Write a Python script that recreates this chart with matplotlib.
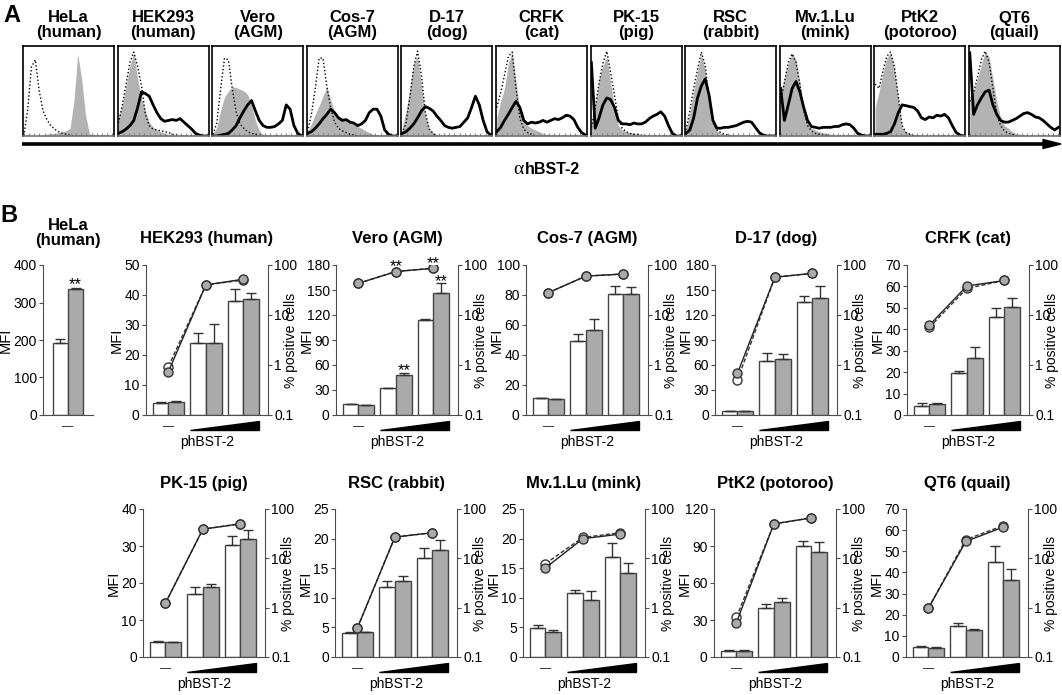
import matplotlib.pyplot as plt
import matplotlib.transforms as mtransforms
from matplotlib.patches import Polygon
from matplotlib.ticker import NullLocator
import numpy as np

plt.rcParams['font.family'] = ['Liberation Sans', 'DejaVu Sans']

# ---------------- panel A: flow histograms (24 channels, % of peak) ----------------
a_cells = ['HeLa', 'HEK293', 'Vero', 'Cos-7', 'D-17', 'CRFK', 'PK-15', 'RSC', 'Mv.1.Lu', 'PtK2', 'QT6']
a_species = ['(human)', '(human)', '(AGM)', '(AGM)', '(dog)', '(cat)', '(pig)', '(rabbit)',
             '(mink)', '(potoroo)', '(quail)']

dotted_hist = [
    [0, 30, 80, 88, 52, 29, 19, 12, 8, 5, 3, 2, 1, 0, 0, 0, 0, 0, 0, 0, 0, 0, 0, 0],
    [15, 35, 60, 85, 97, 80, 58, 25, 12, 8, 7, 6, 5, 4, 2, 1, 0, 0, 0, 0, 0, 0, 0, 0],
    [2, 15, 55, 90, 88, 55, 28, 14, 9, 5, 3, 2, 1, 0, 0, 0, 0, 0, 0, 0, 0, 0, 0, 0],
    [5, 25, 55, 90, 90, 57, 32, 16, 9, 6, 4, 2, 1, 0, 0, 0, 0, 0, 0, 0, 0, 0, 0, 0],
    [3, 15, 45, 80, 98, 70, 28, 8, 3, 0, 0, 0, 0, 0, 0, 0, 0, 0, 0, 0, 0, 0, 0, 0],
    [33, 50, 70, 92, 97, 55, 20, 8, 4, 2, 0, 0, 0, 0, 0, 0, 0, 0, 0, 0, 0, 0, 0, 0],
    [10, 33, 62, 84, 98, 73, 47, 20, 9, 5, 3, 2, 2, 1, 0, 0, 0, 0, 0, 0, 0, 0, 0, 0],
    [7, 29, 55, 77, 97, 81, 44, 16, 7, 4, 2, 1, 0, 0, 0, 0, 0, 0, 0, 0, 0, 0, 0, 0],
    [40, 62, 85, 95, 85, 60, 30, 12, 6, 3, 2, 1, 1, 0, 0, 0, 0, 0, 0, 0, 0, 0, 0, 0],
    [60, 55, 75, 92, 97, 80, 45, 12, 4, 2, 0, 0, 0, 0, 0, 0, 0, 0, 0, 0, 0, 0, 0, 0],
    [40, 50, 68, 88, 98, 85, 55, 25, 12, 6, 3, 2, 0, 0, 0, 0, 0, 0, 0, 0, 0, 0, 0, 0],
]
gray_hist = [
    [0, 0, 0, 0, 0, 1, 2, 3, 3, 4, 5, 6, 9, 40, 95, 66, 25, 3, 0, 0, 0, 0, 0, 0],
    [21, 36, 58, 81, 96, 66, 44, 29, 16, 10, 7, 5, 3, 2, 1, 0, 0, 0, 0, 0, 0, 0, 0, 0],
    [3, 10, 30, 45, 52, 57, 56, 54, 52, 48, 35, 18, 6, 2, 0, 0, 0, 0, 0, 0, 0, 0, 0, 0],
    [5, 14, 25, 35, 46, 57, 42, 27, 23, 21, 18, 16, 14, 11, 9, 6, 4, 2, 1, 0, 0, 0, 0, 0],
    [10, 29, 55, 84, 92, 58, 25, 9, 4, 2, 0, 0, 0, 0, 0, 0, 0, 0, 0, 0, 0, 0, 0, 0],
    [21, 40, 55, 84, 97, 62, 29, 18, 12, 9, 7, 5, 3, 2, 1, 0, 0, 0, 0, 0, 0, 0, 0, 0],
    [15, 36, 66, 81, 92, 62, 33, 12, 7, 5, 4, 3, 2, 1, 0, 0, 0, 0, 0, 0, 0, 0, 0, 0],
    [8, 27, 52, 75, 95, 75, 40, 15, 6, 3, 2, 1, 0, 0, 0, 0, 0, 0, 0, 0, 0, 0, 0, 0],
    [51, 66, 84, 96, 88, 62, 33, 14, 9, 7, 5, 4, 3, 2, 1, 0, 0, 0, 0, 0, 0, 0, 0, 0],
    [33, 51, 73, 90, 96, 77, 44, 10, 5, 3, 2, 1, 0, 0, 0, 0, 0, 0, 0, 0, 0, 0, 0, 0],
    [44, 51, 66, 83, 97, 92, 66, 40, 21, 12, 9, 5, 3, 2, 1, 0, 0, 0, 0, 0, 0, 0, 0, 0],
]
black_hist = [
    None,
    [3, 5, 8, 12, 18, 33, 51, 49, 46, 36, 27, 20, 17, 18, 19, 18, 20, 16, 12, 8, 3, 1, 0, 0],
    [0, 0, 1, 2, 3, 7, 12, 21, 29, 36, 41, 29, 18, 12, 10, 10, 11, 14, 18, 36, 31, 12, 3, 0],
    [3, 5, 9, 14, 20, 25, 31, 27, 21, 18, 19, 16, 15, 12, 14, 18, 27, 31, 31, 23, 7, 2, 0, 0],
    [3, 5, 9, 14, 21, 29, 34, 32, 29, 23, 18, 12, 10, 9, 10, 11, 16, 21, 33, 46, 36, 18, 5, 1],
    [5, 10, 18, 25, 33, 40, 33, 18, 14, 16, 15, 16, 18, 16, 18, 20, 19, 21, 24, 23, 19, 10, 4, 1],
    [85, 9, 21, 36, 44, 42, 33, 18, 14, 14, 13, 15, 14, 14, 16, 20, 23, 25, 28, 23, 12, 3, 0, 0],
    [3, 7, 21, 44, 58, 66, 47, 18, 9, 9, 10, 10, 11, 12, 14, 16, 17, 16, 10, 4, 1, 0, 0, 0],
    [55, 18, 36, 55, 63, 51, 33, 18, 11, 10, 9, 10, 10, 10, 11, 11, 13, 14, 13, 9, 3, 1, 0, 0],
    [2, 2, 2, 3, 5, 14, 27, 36, 35, 34, 33, 29, 21, 19, 22, 21, 24, 23, 25, 21, 12, 4, 1, 0],
    [96, 25, 36, 44, 51, 53, 36, 25, 18, 16, 16, 18, 20, 23, 26, 27, 25, 22, 21, 18, 14, 10, 7, 10],
]

# ---------------- panel B: MFI bars and % positive cells ----------------
b_titles = ['HEK293 (human)', 'Vero (AGM)', 'Cos-7 (AGM)', 'D-17 (dog)', 'CRFK (cat)',
            'PK-15 (pig)', 'RSC (rabbit)', 'Mv.1.Lu (mink)', 'PtK2 (potoroo)', 'QT6 (quail)']
b_ymax = [50, 180, 100, 180, 70, 40, 25, 25, 120, 70]
b_ystep = [10, 30, 20, 30, 10, 10, 5, 5, 30, 10]

white_mfi = [[4.1, 23.9, 38.0], [13.2, 32.0, 114], [11.1, 49.6, 80.5], [4.8, 64.8, 136],
             [4.4, 19.4, 45.9], [4.0, 17.0, 30.2], [4.0, 11.9, 16.7], [4.9, 10.8, 16.9],
             [4.6, 39.7, 90.3], [4.7, 14.5, 44.8]]
white_sd = [[0.2, 3.3, 3.9], [0.3, 0.3, 1.0], [0.3, 4.4, 5.6], [0.5, 9.2, 6.8],
            [1.0, 1.3, 3.9], [0.2, 1.9, 2.4], [0.3, 0.9, 1.7], [0.5, 0.6, 2.4],
            [0.8, 3.3, 3.5], [0.3, 1.6, 7.9]]
gray_mfi = [[4.4, 24.1, 38.6], [12.0, 48.0, 147], [10.4, 57.0, 80.5], [4.8, 66.8, 140],
            [5.1, 26.7, 50.2], [4.0, 18.9, 31.9], [4.2, 12.8, 18.0], [4.3, 9.6, 14.2],
            [4.6, 44.6, 84.9], [4.3, 12.6, 36.3]]
gray_sd = [[0.1, 6.2, 2.2], [0.3, 2.8, 11], [0.3, 6.8, 5.0], [0.5, 6.0, 15],
           [0.7, 4.9, 4.5], [0.1, 0.8, 2.3], [0.1, 0.9, 1.7], [0.2, 1.5, 1.7],
           [0.8, 3.2, 8.1], [0.3, 0.8, 5.3]]

open_pct = [[0.93, 40, 50], [43, 74, 86], [28, 60, 66], [0.50, 57, 68], [5.7, 34, 49],
            [1.24, 39, 50], [0.39, 27, 33], [7.8, 26.5, 33], [0.64, 50, 66], [0.98, 24, 46]]
gray_pct = [[0.74, 40, 52], [43, 74, 86], [28, 60, 66], [0.68, 57, 68], [6.3, 38, 49],
            [1.24, 39, 50], [0.39, 27, 33], [6.4, 25, 31], [0.50, 50, 66], [0.98, 22, 43]]

sig_bar_groups = {1: [1, 2]}   # Vero: gray bars of doses 2 and 3
sig_pct_groups = {1: [1, 2]}   # Vero: % positive at doses 2 and 3

hela_white, hela_white_sd = 192, 11
hela_gray, hela_gray_sd = 336, 3

# ---------------- figure ----------------
W, H = 1062, 695
fig = plt.figure(figsize=(W / 100, H / 100), dpi=100)


def px_axes(x0, y0, x1, y1):
    return fig.add_axes([x0 / W, 1 - y1 / H, (x1 - x0) / W, (y1 - y0) / H])


over = px_axes(0, 0, W, H)
over.set_xlim(0, W)
over.set_ylim(H, 0)
over.axis('off')

over.text(3, 15, 'A', fontsize=17, weight='bold', ha='left', va='center')
over.text(0, 215, 'B', fontsize=17, weight='bold', ha='left', va='center')

chan = np.arange(24)
for i, cell in enumerate(a_cells):
    x0 = 23 + 94.6 * i
    ax = px_axes(x0, 46, x0 + 91, 136)
    ax.fill_between(chan, gray_hist[i], color='#b3b3b3', lw=0)
    ax.plot(chan, dotted_hist[i], color='black', ls=(0, (1, 1.6)), lw=1)
    if black_hist[i] is not None:
        ax.plot(chan, black_hist[i], color='black', lw=2)
    ax.set_xlim(-0.2, 23.4)
    ax.set_ylim(0, 104)
    ax.set_xticks(np.linspace(0, 23, 18))
    ax.set_yticks([])
    ax.tick_params(axis='x', direction='in', length=2, color='#888888', labelbottom=False)
    for s in ax.spines.values():
        s.set_linewidth(1.2)
    ax.spines['bottom'].set_color('#777777')
    over.text(x0 + 45.5, 18, cell, fontsize=12, weight='bold', ha='center', va='center')
    over.text(x0 + 45.5, 33, a_species[i], fontsize=12, weight='bold', ha='center', va='center')

over.plot([22, 1045], [144, 144], color='black', lw=2.6, solid_capstyle='butt')
over.add_patch(Polygon([[1043, 139.5], [1061, 144], [1043, 148.5]], closed=True, color='black'))
over.text(524, 169, 'α', family='Liberation Serif', fontsize=14, ha='right', va='center')
over.text(525, 169, 'hBST-2', fontsize=11.5, weight='bold', ha='left', va='center')

spine_c = '#4d4d4d'
bar_kw = dict(edgecolor='#444444', linewidth=1)
err_kw = dict(ecolor='#333333', elinewidth=1, capthick=1)


def style_left(ax, ymax, ystep, w, h, mfi_x):
    ax.set_ylim(0, ymax)
    ax.set_yticks(np.arange(0, ymax + 0.1, ystep))
    ax.set_xticks([])
    ax.spines['top'].set_visible(False)
    ax.spines['right'].set_visible(False)
    for s in ('left', 'bottom'):
        ax.spines[s].set_color(spine_c)
    ax.tick_params(axis='y', direction='out', length=3, width=0.8, pad=1.5,
                   labelsize=10, color=spine_c)
    ax.set_ylabel('MFI', fontsize=10.5)
    ax.yaxis.set_label_coords(mfi_x / w, 0.5)


# HeLa panel
ax = px_axes(43, 265, 93, 415)
ax.bar([-0.21], [hela_white], 0.42, color='white', yerr=[[0], [hela_white_sd]],
       capsize=3.5, error_kw=err_kw, **bar_kw)
ax.bar([0.21], [hela_gray], 0.42, color='#aaaaaa', yerr=[[0], [hela_gray_sd]],
       capsize=3.5, error_kw=err_kw, **bar_kw)
ax.set_xlim(-0.68, 0.68)
style_left(ax, 400, 100, 50, 150, -30)
ax.annotate('**', (0.21, hela_gray + hela_gray_sd), xytext=(0, -1), textcoords='offset points',
            ha='center', va='baseline', fontsize=12)
trans = mtransforms.blended_transform_factory(ax.transData, ax.transAxes)
ax.text(0, -0.075, '—', transform=trans, ha='center', va='center', fontsize=8)
ax.text(0.5, 1 + 40 / 150, 'HeLa', transform=ax.transAxes, ha='center', va='center',
        fontsize=12, weight='bold')
ax.text(0.5, 1 + 24 / 150, '(human)', transform=ax.transAxes, ha='center', va='center',
        fontsize=12, weight='bold')

b_lefts = [[146, 336, 526, 715, 907], [143, 335, 523, 714, 906]]
b_rows = [(265, 415), (509, 657)]
groups = np.arange(3)

for k, title in enumerate(b_titles):
    row, col = divmod(k, 5)
    left = b_lefts[row][col]
    top, bottom = b_rows[row]
    w, h = 122, bottom - top
    ax = px_axes(left, top, left + w, bottom)
    ax.bar(groups - 0.21, white_mfi[k], 0.42, color='white',
           yerr=[np.zeros(3), white_sd[k]], capsize=3.5, error_kw=err_kw, **bar_kw)
    ax.bar(groups + 0.21, gray_mfi[k], 0.42, color='#aaaaaa',
           yerr=[np.zeros(3), gray_sd[k]], capsize=3.5, error_kw=err_kw, **bar_kw)
    ax.set_xlim(-0.6, 2.66)
    style_left(ax, b_ymax[k], b_ystep[k], w, h, -22)
    for g in sig_bar_groups.get(k, []):
        ax.annotate('**', (g + 0.21, gray_mfi[k][g] + gray_sd[k][g]), xytext=(0, -2),
                    textcoords='offset points', ha='center', va='baseline', fontsize=12)

    trans = mtransforms.blended_transform_factory(ax.transData, ax.transAxes)
    ax.add_patch(Polygon([[0.58, -0.10], [2.42, -0.10], [2.42, -0.04]], closed=True,
                         transform=trans, color='black', clip_on=False))
    ax.text(0, -0.075, '—', transform=trans, ha='center', va='center', fontsize=8)
    ax.text(0.5, -0.18, 'phBST-2', transform=ax.transAxes, ha='center', va='center', fontsize=10)
    ax.text(0.5, 1 + 26 / h, title, transform=ax.transAxes, ha='center', va='center',
            fontsize=12, weight='bold')

    ax2 = ax.twinx()
    ax2.set_yscale('log')
    ax2.set_ylim(0.1, 100)
    ax2.plot(groups, open_pct[k], ls=(0, (3, 1.5)), color='#333333', lw=1, marker='o', ms=6.5,
             mfc='white', mec='#333333', mew=1)
    ax2.plot(groups, gray_pct[k], ls='-', color='#222222', lw=1, marker='o', ms=6.5,
             mfc='#aaaaaa', mec='#333333', mew=1)
    for g in sig_pct_groups.get(k, []):
        ax2.annotate('**', (g, gray_pct[k][g]), xytext=(0, 0), textcoords='offset points',
                     ha='center', va='baseline', fontsize=12)
    ax2.set_yticks([0.1, 1, 10, 100])
    ax2.set_yticklabels(['0.1', '1', '10', '100'])
    ax2.yaxis.set_minor_locator(NullLocator())
    for s in ('top', 'left', 'bottom'):
        ax2.spines[s].set_visible(False)
    ax2.spines['right'].set_color(spine_c)
    ax2.tick_params(axis='y', direction='out', length=3, width=0.8, pad=1.5,
                    labelsize=10, color=spine_c)
    ax2.set_ylabel('% positive cells', fontsize=10)
    ax2.yaxis.set_label_coords(1 + 16 / w, 0.5)

fig.savefig('out.png', dpi=100)
